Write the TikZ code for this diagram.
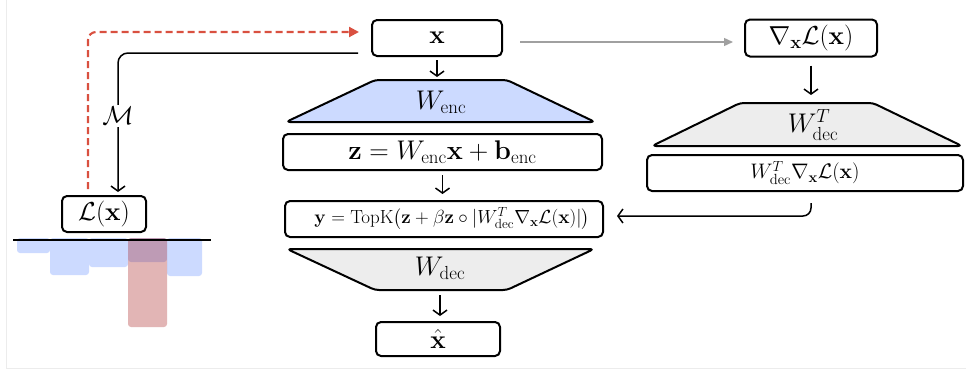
\RequirePackage{fix-cm}
\documentclass[tikz,border=0pt]{standalone}
\usepackage{amsmath}
\usetikzlibrary{arrows.meta}
\definecolor{encblue}{RGB}{204,218,255}
\definecolor{decgray}{RGB}{237,237,237}
\definecolor{dashred}{RGB}{217,80,64}
\definecolor{arrgray}{RGB}{160,160,160}
\definecolor{barred}{RGB}{160,10,10}
\definecolor{framegray}{RGB}{236,236,236}
\tikzset{
 box/.style={draw, line width=2pt, rounded corners=5pt, inner sep=0pt, minimum height=36pt},
 trap/.style={draw, line width=2pt, rounded corners=4pt, line join=round},
 arr/.style={line width=1.5pt, -{Straight Barb[length=5pt,width=14pt]}},
 fbig/.style={font=\fontsize{26}{30}\selectfont},
 ftrap/.style={font=\fontsize{27}{31}\selectfont},
 fmid/.style={font=\fontsize{27}{31}\selectfont},
 fsmall/.style={font=\fontsize{21}{25}\selectfont},
 fy/.style={font=\fontsize{19}{22}\selectfont},
 bar/.style={fill=encblue, rounded corners=3pt},
}
\begin{document}
\begin{tikzpicture}[x=1pt,y=-1pt]
\useasboundingbox (0,0) rectangle (966,372);
% faint frame
\draw[framegray, line width=1pt] (6.5,0) -- (6.5,368) -- (966,368);

% main column
\node[box, fbig, minimum width=130pt] (xin) at (437,38) {$\mathbf{x}$};
\filldraw[trap, fill=encblue] (375,80) -- (507,80) -- (595,122) -- (286,122) -- cycle;
\node[ftrap] (wenc) at (441,102) {$W_{\mathrm{enc}}$};
\coordinate (enctop) at (437,80);
\node[box, fmid, minimum width=319pt] (zbox) at (442.5,152) {$\mathbf{z} = W_{\mathrm{enc}}\mathbf{x} + \mathbf{b}_{\mathrm{enc}}$};
\node[box, fy, minimum width=318pt] (ybox) at (444,219) {\hspace{16pt}$\mathbf{y} = \mathrm{TopK}\bigl(\mathbf{z} + \beta\mathbf{z}\circ|W_{\mathrm{dec}}^{T}\nabla_{\mathbf{x}}\mathcal{L}(\mathbf{x})|\bigr)$};
\filldraw[trap, fill=decgray] (287,249) -- (594,249) -- (507,290) -- (375,290) -- cycle;
\node[ftrap] (wdec) at (440,268) {$W_{\mathrm{dec}}$};
\coordinate (decbot) at (440,290);
\node[box, fbig, minimum width=124pt, minimum height=34pt] (xhat) at (438,339) {$\hat{\mathbf{x}}$};

\draw[arr, shorten <=3pt, shorten >=3pt] (xin.south) -- (enctop);
\draw[arr, shorten <=4pt, shorten >=6pt] (zbox.south) -- (zbox.south |- ybox.north);
\draw[arr, shorten <=5pt, shorten >=5pt] (decbot) -- (decbot |- xhat.north);

% right column
\node[box, fbig, minimum width=132pt, minimum height=37pt] (grad) at (811,38) {$\nabla_{\mathbf{x}}\mathcal{L}(\mathbf{x})$};
\filldraw[trap, fill=decgray] (740,103) -- (873,103) -- (962,146) -- (652,146) -- cycle;
\node[ftrap] (wdt) at (813,125) {$W_{\mathrm{dec}}^{T}$};
\coordinate (wdttop) at (811,103);
\node[box, fsmall, minimum width=316pt] (gbox) at (805,173) {$W_{\mathrm{dec}}^{T}\nabla_{\mathbf{x}}\mathcal{L}(\mathbf{x})$};
\draw[arr, shorten <=8pt, shorten >=8pt] (grad.south -| wdttop) -- (wdttop);
\coordinate (rs) at (811,203);
\coordinate (re) at (617,216);
\draw[arr, rounded corners=8pt] (rs) |- (re);

% gray arrow
\coordinate (ga) at (520,42);
\coordinate (gb) at (733,42);
\draw[arrgray, line width=1.4pt, -{Triangle[length=9pt,width=8pt]}] (ga) -- (gb);

% left part
\node[box, fbig, minimum width=84pt] (Lbox) at (104,214) {$\mathcal{L}(\mathbf{x})$};
\coordinate (redstart) at (88,189);
\coordinate (redend) at (359,32);
\draw[dashred, line width=2.1pt, dash pattern=on 7pt off 4pt, rounded corners=8pt, -{Triangle[length=10pt,width=10pt]}] (redstart) |- (redend);
\coordinate (bstart) at (358,53);
\coordinate (bend) at (118,192);
\draw[arr, rounded corners=10pt] (bstart) -| (bend);
\node[fill=white, inner sep=2pt, font=\fontsize{26}{30}\selectfont] (mlab) at (118,116) {$\mathcal{M}$};

% bars
\fill[bar] (17,238) rectangle (50,253);
\fill[bar] (50,238) rectangle (89,275);
\fill[bar] (89,238) rectangle (128,267);
\fill[bar] (128,238) rectangle (167,262);
\fill[bar] (167,238) rectangle (202,276);
\fill[barred, opacity=0.3, rounded corners=3pt] (128,238) rectangle (167,327);
\draw[line width=1.8pt] (13,240) -- (211,240);
\end{tikzpicture}
\end{document}
